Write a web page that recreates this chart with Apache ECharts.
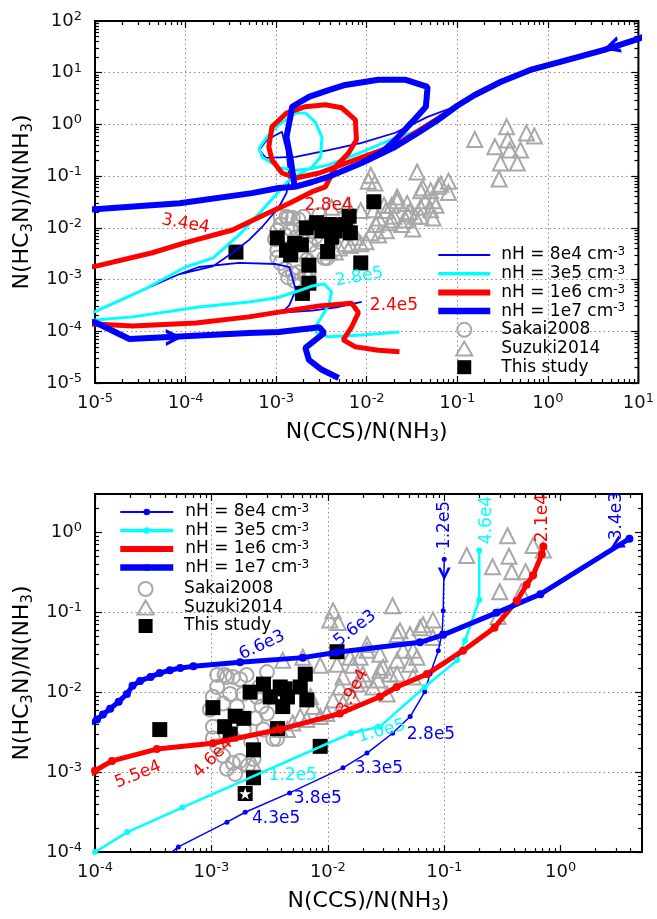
<!DOCTYPE html>
<html>
<head>
<meta charset="UTF-8">
<title>N(HC3N)/N(NH3) vs N(CCS)/N(NH3)</title>
<script src="https://cdn.jsdelivr.net/npm/echarts@6/dist/echarts.min.js"></script>
<style>
  body { margin: 0; background: #fff; }
  #top { width: 657px; height: 460px; }
  #bottom { width: 657px; height: 459px; }
</style>
</head>
<body>
<div id="top"></div>
<div id="bottom"></div>
<script>
  // ---- observations (same in both panels) ----
  const sakai2008 = [
    [1.3e-3, 0.0164], [1.53e-3, 0.0155], [2.0e-3, 0.0164], [1.12e-3, 0.0116], [1.45e-3, 9.5e-3],
    [1.87e-3, 9.5e-3], [2.46e-3, 8.75e-3], [3.2e-3, 8.75e-3], [2.7e-3, 6.6e-3], [2.4e-3, 4.7e-3],
    [3.0e-3, 5.4e-3], [1.03e-3, 8.75e-3], [1.26e-3, 7.2e-3], [1.66e-3, 6.6e-3], [9.7e-4, 6.05e-3],
    [2.8e-3, 3.4e-3], [3.4e-3, 2.6e-3], [1.03e-3, 3.7e-3], [1.03e-3, 2.65e-3], [1.12e-3, 2.1e-3],
    [1.26e-3, 1.6e-3], [1.53e-3, 1.3e-3], [1.76e-3, 1.38e-3], [1.36e-3, 1.1e-3], [1.6e-3, 9.5e-4],
    [2.06e-3, 1.2e-3], [2.3e-3, 1.46e-3], [3.66e-3, 2.6e-3], [1.12e-3, 0.0164], [1.36e-3, 0.0155],
    [1.76e-3, 0.0145], [3.0e-3, 0.0178], [2.2e-3, 2.4e-3], [1.9e-3, 3.4e-3], [2.6e-3, 0.0118]
  ];
  const suzuki2014 = [
    [0.156, 0.51], [0.35, 0.90], [0.58, 0.68], [0.71, 0.60], [0.26, 0.37], [0.36, 0.50], [0.38, 0.32],
    [0.50, 0.32], [0.30, 0.18], [0.46, 0.18], [0.29, 0.088], [0.036, 0.12], [0.08, 0.08], [0.0111, 0.104],
    [0.0104, 0.080], [0.0123, 0.074], [0.0217, 0.0394], [0.0155, 0.0273], [0.0189, 0.0273], [0.028, 0.0297],
    [0.0417, 0.0587], [0.0508, 0.0524], [0.062, 0.064], [0.0658, 0.0697], [0.080, 0.0482], [0.0583, 0.0273],
    [0.0394, 0.0251], [0.0443, 0.0333], [0.028, 0.0188], [0.020, 0.0168], [0.0342, 0.0168], [0.0508, 0.0223],
    [0.0178, 0.0126], [0.0135, 0.0155], [0.012, 0.0223], [0.0041, 0.0251], [0.0061, 0.0273], [0.0086, 0.0217],
    [0.0164, 0.0217], [0.0217, 0.0333], [0.0394, 0.0524], [0.054, 0.0333], [0.0298, 0.0205], [0.0394, 0.0168],
    [0.054, 0.0155], [0.0189, 0.0142], [0.0244, 0.0116], [0.0323, 0.0095], [0.0127, 0.0116], [0.0111, 0.008],
    [0.0164, 0.00875], [0.0075, 0.0066], [0.0098, 0.0054], [0.0066, 0.00455], [0.005, 0.0041], [0.0039, 0.0034],
    [0.00227, 0.0013], [0.0045, 0.0034], [0.0058, 0.00495], [0.0086, 0.00495], [0.0135, 0.0073], [0.0071, 0.0088],
    [0.027, 0.0142]
  ];
  const thisStudy = [
    [3.6e-4, 3.4e-3], [1.03e-3, 6.4e-3], [1.3e-3, 3.7e-3], [1.45e-3, 3.0e-3], [1.6e-3, 5.0e-3],
    [1.9e-3, 4.7e-3], [2.3e-3, 1.9e-3], [2.3e-3, 8.5e-4], [2.15e-3, 0.010], [2.8e-3, 0.0126],
    [3.2e-3, 8.7e-3], [4.1e-3, 6.6e-3], [4.3e-3, 0.011], [5.8e-3, 0.0116], [6.6e-3, 8.0e-3],
    [6.4e-3, 0.0168], [3.7e-3, 3.5e-3], [1.95e-3, 5.4e-4], [8.6e-3, 2.1e-3], [0.012, 0.032],
    [4.5e-3, 8.7e-3], [3.9e-3, 0.0116]
  ];
  const redStar = [[3.7e-3, 3.5e-3]];
  const whiteStar = [[1.95e-3, 5.4e-4]];

  // ---- top panel: model tracks ('-' = break) ----
  const topN8e4 = [
    [12, 52], [10, 45], [4.2, 27.6], [1.37, 16.2], [0.64, 11.3], [0.30, 6.6], [0.156, 3.7], [0.10, 2.3],
    [0.047, 1.4], [0.0207, 0.69], [0.0088, 0.44], [0.0038, 0.32], [0.00165, 0.235], [7.7e-4, 0.225],
    [6.5e-4, 0.32], [7.9e-4, 0.50], [0.00116, 0.72], [0.0013, 0.32], [0.0014, 0.092], [0.0013, 0.047],
    [0.00107, 0.025], [7e-4, 0.0104], [5e-4, 0.0058], [3.3e-4, 0.0033], [2e-4, 0.0018], [8.6e-5, 0.00128],
    [3.4e-5, 6.3e-4], [1e-5, 2.4e-4], [5e-6, 1.7e-4], ['-', '-'],
    [8.6e-5, 0.00128], [1.4e-4, 0.00175], [3.9e-4, 0.0021], [1e-3, 0.0020], [0.0014, 0.00175],
    [0.00165, 6.3e-4], [0.0014, 3.2e-4], [0.00116, 2.3e-4], [0.0025, 2.5e-4], [0.0049, 2.95e-4], [0.0088, 3.7e-4]
  ];
  const topN3e5 = [
    [12, 52], [10, 45], [4.2, 27.6], [1.37, 16.2], [0.64, 11.3], [0.30, 6.6], [0.156, 3.7], [0.10, 2.3],
    [0.061, 1.22], [0.037, 0.75], [0.0207, 0.55], [0.0088, 0.29], [0.0038, 0.165],
    [0.0025, 0.14], [0.00165, 0.13], [0.00107, 0.145], [7e-4, 0.235], [6.5e-4, 0.35], [7.9e-4, 0.57],
    [0.00107, 0.98], [0.00165, 1.67], [0.0021, 1.67], [0.0027, 1.12], [0.0032, 0.57], [0.0031, 0.235],
    [0.0025, 0.15], [0.0014, 0.085], [7e-4, 0.022], [3.9e-4, 0.0073], [2e-4, 0.0026], [1e-4, 0.00175],
    [3.4e-5, 6.3e-4], [1e-5, 2.4e-4], [5e-6, 1.6e-4], [5e-6, 1.5e-4],
    [1e-5, 1.66e-4], [2.6e-5, 1.9e-4], [1.4e-4, 2.95e-4], [5e-4, 3.7e-4], [1e-3, 4.4e-4], [0.00165, 5.8e-4],
    [0.0025, 7.5e-4], [0.0034, 8.2e-4], [0.0041, 5.8e-4], [0.0038, 3.2e-4], [0.0027, 1.2e-4], [0.0028, 9.3e-5],
    [0.0038, 7.8e-5], [0.0088, 8.5e-5], [0.023, 9.7e-5]
  ];
  const topN1e6 = [
    [12, 52], [10, 45], [4.2, 27.6], [1.37, 16.2], [0.64, 11.3], [0.30, 6.6], [0.156, 3.7], [0.10, 2.3],
    [0.061, 1.3], [0.037, 0.75], [0.0207, 0.40], [0.0045, 0.15], [0.003, 0.115], [0.00165, 0.092],
    [0.00116, 0.115], [9e-4, 0.206], [8.3e-4, 0.37], [9e-4, 0.9], [0.0013, 1.65], [0.0021, 2.2], [0.0035, 2.4],
    [0.0053, 2.1], [0.0075, 1.22], [0.0077, 0.50], [0.0063, 0.28], [0.0045, 0.15], [0.0035, 0.062],
    [0.0025, 0.05], [0.0014, 0.03], [7.3e-4, 0.0178], [3.3e-4, 0.0091], [1e-4, 0.0052], [4.3e-5, 0.0033],
    [1e-5, 0.0018], [5e-6, 0.0015], [5e-6, 1.3e-4],
    [1e-5, 1.38e-4], [2.6e-5, 1.27e-4], [1.3e-4, 1.45e-4], [5e-4, 1.9e-4], [0.00116, 2.4e-4], [0.003, 3.1e-4],
    [0.0068, 3.5e-4], [0.0081, 2.3e-4], [0.0068, 1.2e-4], [0.0055, 6.8e-5], [0.0075, 5e-5], [0.0134, 4.3e-5],
    [0.023, 4.0e-5]
  ];
  const topN1e7 = [
    [12, 52], [10, 45], [4.2, 27.6], [1.37, 16.2], [0.64, 11.3], [0.30, 6.6], [0.156, 3.7], [0.10, 2.3],
    [0.061, 1.22], [0.037, 0.69], [0.0207, 0.37], [0.0088, 0.18], [0.0038, 0.097], [0.0025, 0.077],
    [0.0016, 0.062], [0.00145, 0.21], [0.0013, 0.57], [0.00145, 1.53], [0.0015, 2.2], [0.0023, 3.4],
    [0.0038, 4.6], [0.0058, 5.8], [0.0134, 7.3], [0.027, 7.3], [0.047, 5.3], [0.045, 2.2], [0.031, 1.07],
    [0.0207, 0.5], [0.015, 0.3], [0.0088, 0.18], [0.0038, 0.097], [0.0025, 0.077], [0.0016, 0.062],
    [0.00107, 0.059], [5.4e-4, 0.047], [8.6e-5, 0.030], [1e-5, 0.023], [5e-6, 0.021],
    [5e-6, 1.6e-4], [1e-5, 1.5e-4], [2.4e-5, 7.1e-5], [7.5e-5, 7.8e-5], [5e-4, 9.3e-5], [0.00107, 9.7e-5],
    [0.0030, 1.2e-4], [0.0034, 9.3e-5], [0.0021, 4.8e-5], [0.0023, 2.8e-5], [0.0032, 1.8e-5], [0.0049, 1.25e-5]
  ];
  const topArrows1e7 = [[5.0, 31.5], [7.5e-5, 7.6e-5]];
  const topLabelsRed = [
    { text: '3.4e4', at: [1e-4, 0.0119] },
    { text: '2.8e4', at: [0.0038, 0.0265] },
    { text: '2.4e5', at: [0.02, 3.2e-4] }
  ];
  const topLabelsCyan = [{ text: '2.8e5', at: [0.0083, 0.00112] }];

  // ---- bottom panel: model tracks ----
  const botN8e4 = [
    [0.10, 0.46], [0.098, 0.104], [0.096, 0.055], [0.089, 0.033], [0.0755, 0.0168], [0.068, 0.0101],
    [0.051, 4.95e-3], [0.036, 3.06e-3], [0.0217, 1.73e-3], [0.0135, 1.13e-3], [4.7e-3, 5.5e-4],
    [1.95e-3, 3.15e-4], [1.36e-3, 2.37e-4], [5.2e-4, 1.16e-4], [2.5e-4, 5e-5]
  ];
  const botN3e5 = [
    [0.20, 0.59], [0.20, 0.142], [0.151, 0.044], [0.129, 0.025], [0.068, 0.0116], [0.028, 3.7e-3],
    [0.0158, 3.06e-3], [5.6e-4, 3.6e-4], [1.9e-4, 1.78e-4], [1.0e-4, 1.0e-4], [6e-5, 6e-5]
  ];
  const botN1e6 = [
    [0.71, 0.66], [0.69, 0.53], [0.58, 0.29], [0.51, 0.22], [0.42, 0.138], [0.27, 0.064], [0.145, 0.033],
    [0.071, 0.0168], [0.039, 0.0116], [0.028, 8.75e-3], [0.0127, 5.4e-3], [3.9e-3, 3.43e-3],
    [1.03e-3, 2.3e-3], [3.4e-4, 1.94e-3], [1.4e-4, 1.38e-3], [1e-4, 1.04e-3], [8e-5, 8e-4]
  ];
  const botN1e7 = [
    [3.9, 0.83], [0.67, 0.168], [0.28, 0.098], [0.098, 0.052], [0.062, 0.042], [0.012, 0.0315],
    [6.1e-3, 0.027], [1.76e-3, 0.0237], [7e-4, 0.021], [5.4e-4, 0.020], [4.4e-4, 0.0188], [3.6e-4, 0.0173],
    [3.0e-4, 0.0155], [2.44e-4, 0.0138], [2.1e-4, 0.012], [1.88e-4, 9.5e-3], [1.6e-4, 7.6e-3],
    [1.35e-4, 6.2e-3], [1.17e-4, 5.25e-3], [1.04e-4, 4.55e-3], [9e-5, 4e-3]
  ];
  const botArrows8e4 = [[0.1, 0.30]];
  const botArrows1e7 = [[3.0, 0.69]];
  const botLabelsThin = [
    { text: '1.2e5', at: [0.1, 1.23] }, { text: '2.8e5', at: [0.077, 2.93e-3] },
    { text: '3.3e5', at: [0.0275, 1.1e-3] }, { text: '3.8e5', at: [8.2e-3, 4.7e-4] },
    { text: '4.3e5', at: [3.6e-3, 2.65e-4] }
  ];
  const botLabelsCyan = [
    { text: '4.6e4', at: [0.229, 1.42] }, { text: '1.0e5', at: [0.029, 3.24e-3] },
    { text: '1.2e5', at: [5.0e-3, 9.0e-4] }
  ];
  const botLabelsRed = [
    { text: '2.1e4', at: [0.706, 1.50] }, { text: '3.9e4', at: [0.0164, 0.0101] },
    { text: '4.6e4', at: [1.03e-3, 1.5e-3] }, { text: '5.5e4', at: [2.34e-4, 9.3e-4] }
  ];
  const botLabelsThick = [
    { text: '3.4e3', at: [3.05, 1.59] }, { text: '5.6e3', at: [0.0171, 0.0622] },
    { text: '6.6e3', at: [2.72e-3, 0.0384] }
  ];

  // ---- ticks ----
  const topXTicks = [1e-5, 1e-4, 1e-3, 1e-2, 1e-1, 1e0, 1e1];
  const topYTicks = [1e-5, 1e-4, 1e-3, 1e-2, 1e-1, 1e0, 1e1, 1e2];
  const botXTicks = [1e-4, 1e-3, 1e-2, 1e-1, 1e0];
  const botYTicks = [1e-4, 1e-3, 1e-2, 1e-1, 1e0];

  const names = ['nH = 8e4 cm-3', 'nH = 3e5 cm-3', 'nH = 1e6 cm-3', 'nH = 1e7 cm-3'];
  const FONT = 'DejaVu Sans';
  const BLUE = '#0000ff', CYAN = '#00ffff', RED = '#ff0000', GRAY = '#a8a8a8';
  const ARROW = 'path://M0,0 L12,6 L0,12 L0,9.2 L7,6 L0,2.8 Z';
  const STAR = 'path://M50,0 L61,35 L98,35 L68,57 L79,91 L50,70 L21,91 L32,57 L2,35 L39,35 Z';
  const TRI = 'path://M0,9 L5.2,0 L10.4,9 Z';
  const SQUARE = 'path://M0,0 L10,0 L10,10 L0,10 Z';
  const X_NAME = 'N(CCS)/N(NH{sub|3})';
  const Y_NAME = 'N(HC{sub|3}N)/N(NH{sub|3})';

  function minorTicks(min, max) {
    const out = [];
    for (let e = Math.floor(Math.log10(min)); e <= Math.ceil(Math.log10(max)); e++) {
      for (let k = 2; k <= 9; k++) {
        const v = k * Math.pow(10, e);
        if (v > min && v < max) out.push(v);
      }
    }
    return out;
  }

  function powLabel(v) {
    return '10{sup|' + Math.round(Math.log10(v)) + '}';
  }

  function buildAxes(dim, min, max, ticks, nameGap) {
    const minor = minorTicks(min, max);
    const pos = dim === 'x' ? ['bottom', 'top'] : ['left', 'right'];
    const common = { type: 'log', logBase: 10, min: min, max: max, axisLine: { show: false }, splitLine: { show: false } };
    const tick = (vals, len) => ({ show: true, inside: true, length: len, customValues: vals, lineStyle: { color: '#000', width: 1.2 } });
    const main = Object.assign({}, common, {
      position: pos[0],
      name: dim === 'x' ? X_NAME : Y_NAME,
      nameLocation: 'middle',
      nameGap: nameGap,
      nameTextStyle: {
        fontFamily: FONT, fontSize: 22, lineHeight: 26, color: '#000',
        rich: { sub: { fontFamily: FONT, fontSize: 15, lineHeight: 8, verticalAlign: 'bottom', color: '#000' } }
      },
      axisTick: tick(ticks, 7),
      axisLabel: {
        customValues: ticks, margin: dim === 'x' ? 9 : 13, formatter: powLabel,
        fontFamily: FONT, fontSize: 18, lineHeight: 22, color: '#111',
        rich: { sup: { fontFamily: FONT, fontSize: 13, lineHeight: 2, verticalAlign: 'top', color: '#111' } }
      },
      splitLine: { show: true, showMinLine: false, showMaxLine: false, lineStyle: { color: '#8c8c8c', width: 1, type: [1.5, 3] } }
    });
    return [
      main,
      Object.assign({}, common, { position: pos[0], axisTick: tick(minor, 4), axisLabel: { show: false } }),
      Object.assign({}, common, { position: pos[1], axisTick: tick(ticks, 7), axisLabel: { show: false } }),
      Object.assign({}, common, { position: pos[1], axisTick: tick(minor, 4), axisLabel: { show: false } })
    ];
  }

  function tags(list, color, rots) {
    return {
      silent: true, symbol: 'circle', symbolSize: 1, itemStyle: { color: 'rgba(0,0,0,0)' },
      data: list.map((t, i) => ({
        coord: t.at,
        label: { show: true, position: 'inside', formatter: t.text, color: color, fontFamily: FONT, fontSize: 17, rotate: rots[i] || 0 }
      }))
    };
  }

  function track(name, data, color, width, extra) {
    return Object.assign({
      type: 'line', name: name, data: data, smooth: false, connectNulls: false, clip: true,
      symbol: 'none', showSymbol: true, silent: true,
      lineStyle: { color: color, width: width }, itemStyle: { color: color, opacity: 1 }
    }, extra || {});
  }

  function arrows(data, color, size, rots) {
    return {
      type: 'scatter', name: 'arrows', silent: true, symbol: ARROW, symbolSize: size, symbolKeepAspect: true,
      itemStyle: { color: color, opacity: 1 },
      data: data.map((p, i) => ({ value: p, symbolRotate: rots[i] }))
    };
  }

  function observed(withStars) {
    const hollow = { color: 'rgba(255,255,255,0)', borderColor: GRAY, borderWidth: 2, opacity: 1 };
    const s = [
      { type: 'scatter', name: 'Sakai2008', data: sakai2008, symbol: 'circle', symbolSize: 14, silent: true, itemStyle: hollow },
      { type: 'scatter', name: 'Suzuki2014', data: suzuki2014, symbol: 'triangle', symbolSize: 15, silent: true, itemStyle: hollow },
      { type: 'scatter', name: 'This study', data: thisStudy, symbol: 'rect', symbolSize: 15, silent: true,
        itemStyle: { color: '#000', opacity: 1 } }
    ];
    if (withStars) {
      s.push({ type: 'scatter', name: 'star1', data: redStar, symbol: STAR, symbolSize: 12, silent: true, itemStyle: { color: RED, opacity: 1 } });
      s.push({ type: 'scatter', name: 'star2', data: whiteStar, symbol: STAR, symbolSize: 12, silent: true, itemStyle: { color: '#fff', opacity: 1 } });
    }
    return s;
  }

  const legendText = {
    fontFamily: FONT, fontSize: 17, lineHeight: 18, color: '#000', padding: [0, 0, 0, 6],
    rich: { sup: { fontFamily: FONT, fontSize: 12, lineHeight: 6, verticalAlign: 'top', color: '#000' } }
  };
  const legendFmt = n => n.replace('cm-3', 'cm{sup|-3}');
  const lineWidths = [2, 3.5, 6, 6.5];
  const obsLegend = [
    { name: 'Sakai2008', icon: 'circle' },
    { name: 'Suzuki2014', icon: TRI },
    { name: 'This study', icon: SQUARE }
  ];

  // ---------------- top panel ----------------
  const topChart = echarts.init(document.getElementById('top'));
  topChart.setOption({
    animation: false,
    textStyle: { fontFamily: FONT },
    grid: { left: 95, right: 15, top: 21, bottom: 77, show: true, borderColor: '#000', borderWidth: 2 },
    xAxis: buildAxes('x', 1e-5, 10, topXTicks, 30),
    yAxis: buildAxes('y', 1e-5, 100, topYTicks, 46),
    legend: {
      orient: 'vertical', left: 435, top: 246, padding: 0, itemGap: 0.7, itemWidth: 52, itemHeight: 14,
      selectedMode: false, formatter: legendFmt, textStyle: legendText, symbolKeepAspect: true,
      data: names.map((n, i) => ({ name: n, lineStyle: { width: lineWidths[i] }, itemStyle: { opacity: 0 } })).concat(obsLegend)
    },
    series: [
      track(names[0], topN8e4, BLUE, 1.8),
      track(names[1], topN3e5, CYAN, 3, { markPoint: tags(topLabelsCyan, CYAN, [10]) }),
      track(names[2], topN1e6, RED, 5, { markPoint: tags(topLabelsRed, RED, [-10, 0, 0]) }),
      track(names[3], topN1e7, BLUE, 6),
      arrows(topArrows1e7, BLUE, 17, [197.5, 1])
    ].concat(observed(false))
  });

  // ---------------- bottom panel ----------------
  const botChart = echarts.init(document.getElementById('bottom'));
  botChart.setOption({
    animation: false,
    textStyle: { fontFamily: FONT },
    grid: { left: 95, right: 15, top: 34, bottom: 62, show: true, borderColor: '#000', borderWidth: 2 },
    xAxis: buildAxes('x', 1e-4, 5, botXTicks, 30),
    yAxis: buildAxes('y', 1e-4, 3, botYTicks, 46),
    legend: [
      {
        orient: 'vertical', left: 117, top: 43, padding: 0, itemGap: 0.5, itemWidth: 53, itemHeight: 8,
        selectedMode: false, formatter: legendFmt, textStyle: Object.assign({}, legendText, { padding: [0, 0, 0, 7] }),
        data: names.map((n, i) => ({ name: n, lineStyle: { width: lineWidths[i] } }))
      },
      {
        // icons are narrower than itemWidth, so the box starts at the first icon
        orient: 'vertical', left: 136.5, top: 120, padding: 0, itemGap: 0.5, itemWidth: 53, itemHeight: 14,
        selectedMode: false, symbolKeepAspect: true, textStyle: Object.assign({}, legendText, { padding: [0, 0, 0, 7] }),
        data: obsLegend
      }
    ],
    series: [
      track(names[0], botN8e4, BLUE, 1.5, { symbol: 'circle', symbolSize: 5, markPoint: tags(botLabelsThin, BLUE, [90, 0, 0, 0, 0]) }),
      track(names[1], botN3e5, CYAN, 2.5, { symbol: 'circle', symbolSize: 6, markPoint: tags(botLabelsCyan, CYAN, [90, 15, 0]) }),
      track(names[2], botN1e6, RED, 5, { symbol: 'circle', symbolSize: 8, markPoint: tags(botLabelsRed, RED, [90, 62, 45, 22]) }),
      track(names[3], botN1e7, BLUE, 5, { symbol: 'circle', symbolSize: 8, markPoint: tags(botLabelsThick, BLUE, [90, 38, 25]) }),
      arrows(botArrows8e4, BLUE, 13, [-90]),
      arrows(botArrows1e7, BLUE, 14, [212])
    ].concat(observed(true))
  });
</script>
</body>
</html>
